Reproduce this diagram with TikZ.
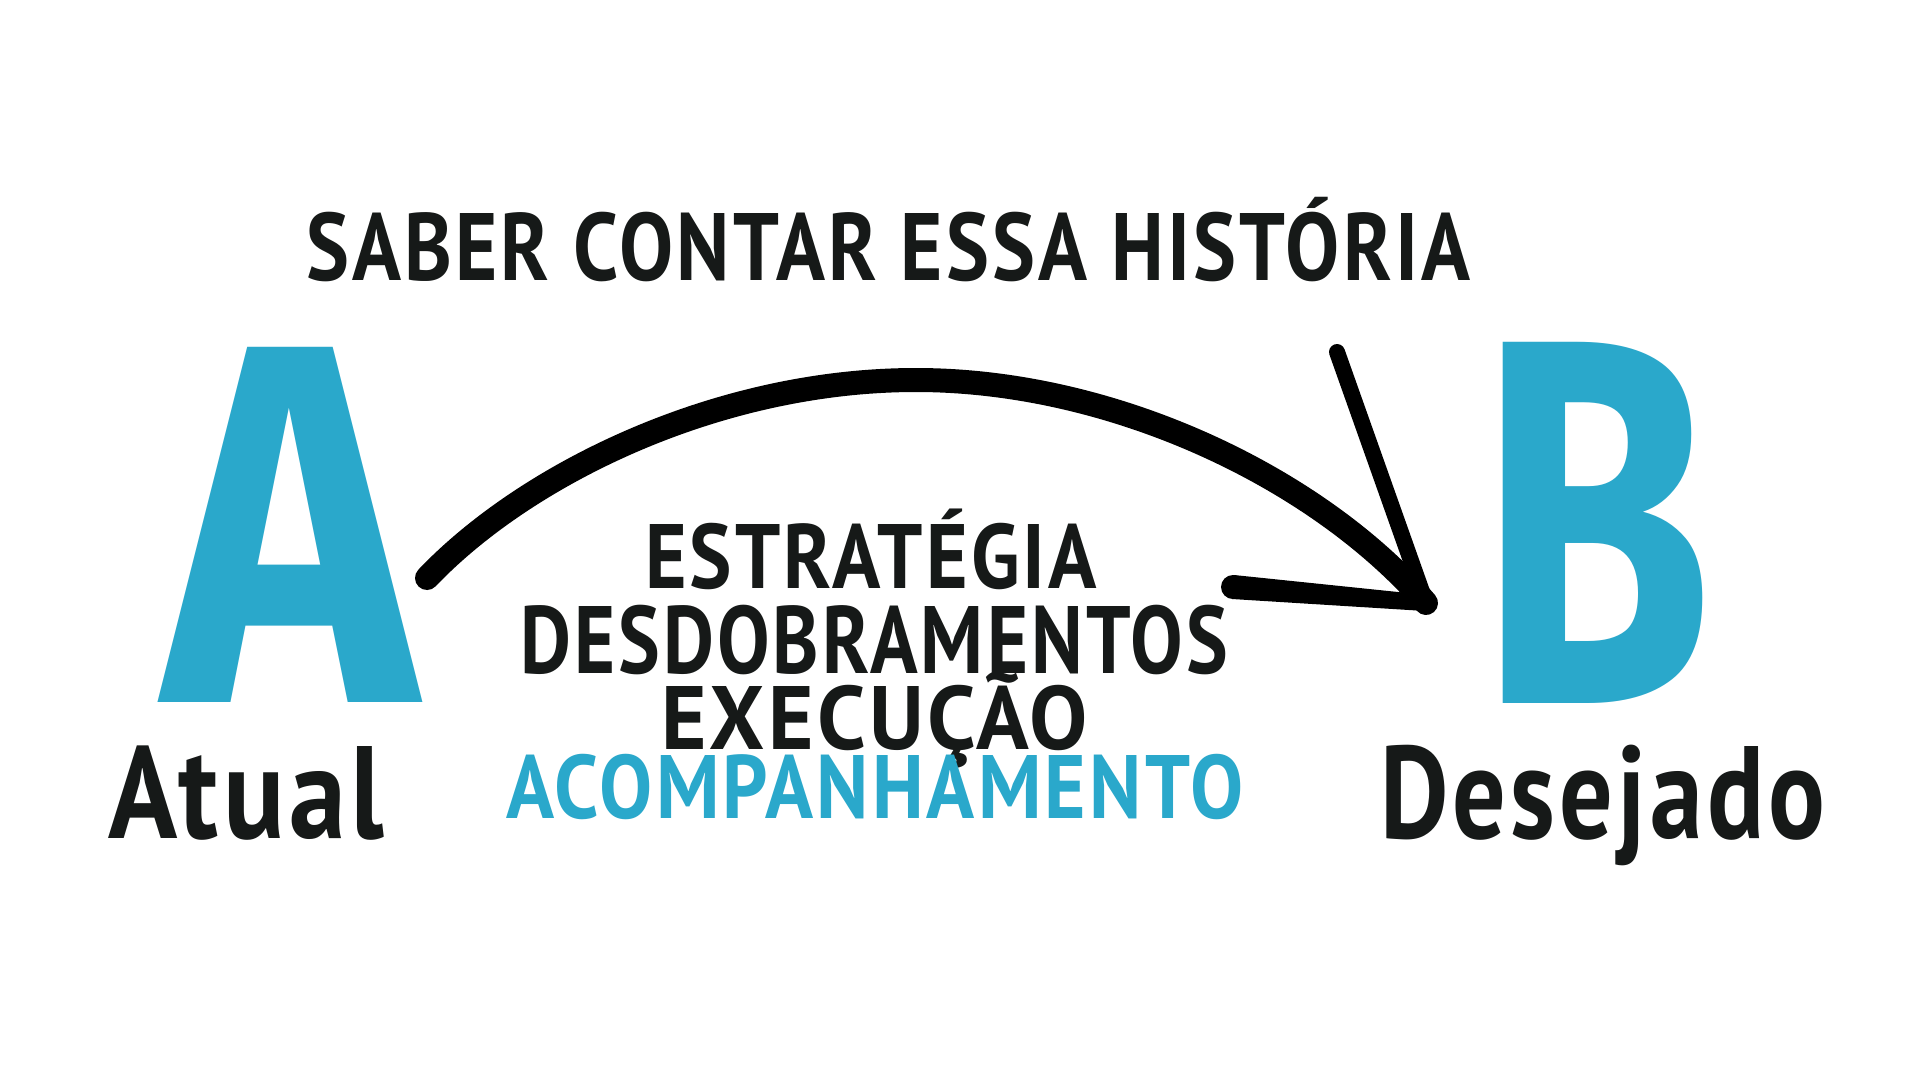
\documentclass[tikz,border=0pt]{standalone}
\usepackage{fontspec}
\usepackage{graphicx}
\setmainfont{PT Sans}[LetterSpace=4]
\newfontfamily\letterfont{Fira Sans}
\definecolor{abblue}{HTML}{2AA8CB}
\definecolor{inkblack}{HTML}{161918}
\newcommand{\capfit}[3]{\resizebox{#1}{#2}{\smash{#3}\vphantom{H}}}
\begin{document}
\begin{tikzpicture}[x=1pt,y=-1pt,
  lbl/.style={inner sep=0pt, outer sep=0pt, anchor=base west, text=inkblack, font=\bfseries},
  bluelbl/.style={lbl, text=abblue},
  bigletter/.style={inner sep=0pt, outer sep=0pt, anchor=base west, text=abblue, font=\letterfont\bfseries},
  arrowline/.style={line width=24pt, line cap=round, draw=black}]
\fill[white] (0,0) rectangle (1920,1080);
\useasboundingbox (0,0) rectangle (1920,1080);

% big letters
\node[bigletter] (A) at (163,702) {\capfit{253pt}{354pt}{A}};
\node[bigletter] (B) at (1478,703) {\capfit{234pt}{360pt}{B}};

% labels under letters
\node[lbl] (atual) at (108,838) {\capfit{276pt}{92pt}{Atual}};
\node[lbl] (desejado) at (1380,838) {\capfit{445pt}{92pt}{Desejado}};

% title
\node[lbl] (title) at (306,280) {\capfit{1164pt}{67pt}{SABER CONTAR ESSA HISTÓRIA}};

% middle list
\node[lbl] (estrategia) at (645,588) {\capfit{452pt}{64pt}{ESTRATÉGIA}};
\node[lbl] (desdob) at (520,673) {\capfit{708pt}{67pt}{DESDOBRAMENTOS}};
\node[lbl] (execucao) at (661,749) {\capfit{427pt}{63pt}{EXECUÇÃO}};
\node[bluelbl] (acomp) at (506,818) {\capfit{737pt}{63pt}{ACOMPANHAMENTO}};

% arrow
\coordinate (start) at (427,578);
\coordinate (peak) at (916,380);
\coordinate (tip) at (1426,603);
\coordinate (barbup) at (1337,352);
\coordinate (barblow) at (1233,587);
\draw[arrowline] (start) .. controls (525,475) and (716,380) .. (peak)
                        .. controls (1116,380) and (1320,480) .. (tip);
\draw[arrowline, line width=16pt] (barbup) -- (tip);
% tapered lower barb
\fill[black] (1234,575) -- (1427,595) -- (1425,611) -- (1232,599) -- cycle;
\fill[black] (barblow) circle (12pt);
\fill[black] (tip) circle (8pt);
\end{tikzpicture}
\end{document}
